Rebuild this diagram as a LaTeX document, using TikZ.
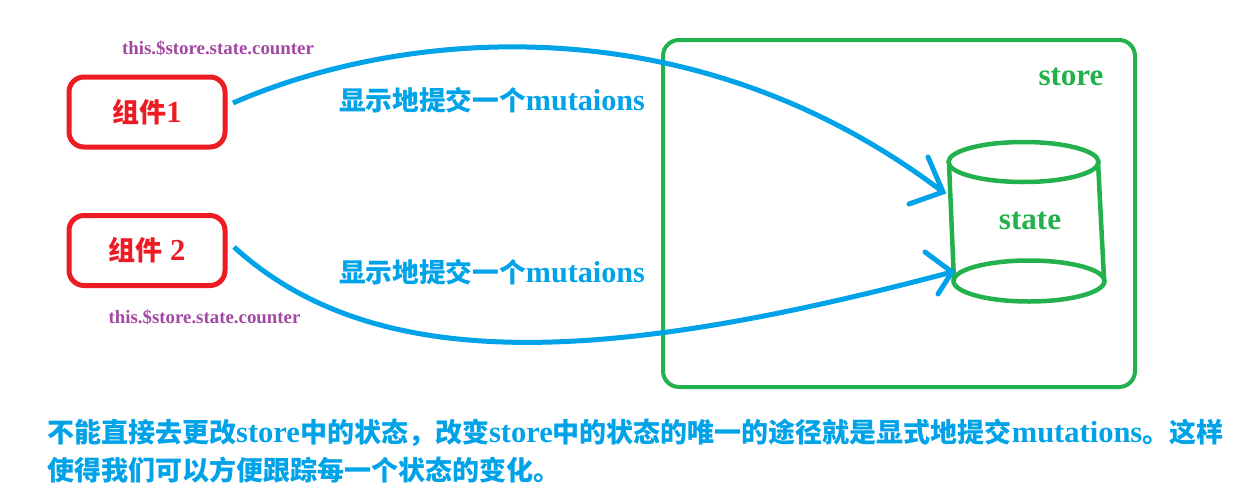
\documentclass[tikz,border=0pt]{standalone}
\usepackage{fontspec}
\setmainfont{Liberation Serif}[Scale=1.13]
\newfontfamily\cjkf{Noto Sans CJK SC}
\newcommand\zh[1]{{\cjkf #1}}
\definecolor{cred}{RGB}{237,28,36}
\definecolor{cgreen}{RGB}{34,177,76}
\definecolor{cblue}{RGB}{0,162,232}
\definecolor{cpurple}{RGB}{163,73,164}
\tikzset{
  compbox/.style={draw=cred, line width=5pt, rounded corners=15pt, minimum width=156pt, minimum height=70pt, inner sep=0pt, text=cred, font=\fontsize{27}{30}\selectfont\bfseries},
  storebox/.style={draw=cgreen, line width=4pt, rounded corners=16pt},
  flow/.style={draw=cblue, line width=5pt},
  barb/.style={draw=cblue, line width=5pt, line cap=round},
  cyl/.style={draw=cgreen, line width=4.5pt},
  pathlbl/.style={text=cpurple, font=\fontsize{16.7}{20}\selectfont\bfseries, inner sep=0pt},
  flowlbl/.style={text=cblue, font=\fontsize{26.7}{30}\selectfont\bfseries, inner sep=0pt},
  greenlbl/.style={text=cgreen, font=\fontsize{27.5}{30}\selectfont\bfseries, inner sep=0pt},
}
\begin{document}
\begin{tikzpicture}[x=1pt,y=-1pt]
\useasboundingbox (0,0) rectangle (1249,490);
\fill[white] (0,0) rectangle (1249,490);

% components
\node[compbox] (c1) at (147,112) {\zh{组件}1};
\node[compbox] (c2) at (147,250.5) {\zh{组件} 2};
\node[pathlbl] (p1) at (218,48) {this.\$store.state.counter};
\node[pathlbl] (p2) at (204.5,317) {this.\$store.state.counter};

% store box
\node[storebox, minimum width=472pt, minimum height=347pt, inner sep=0pt] (store) at (899,213.5) {};
\node[greenlbl] (storelbl) at (1071,77) {store};

% cylinder (state)
\draw[cyl] (1023.5,162) ellipse [x radius=75, y radius=20];
\draw[cyl] (1029,281) ellipse [x radius=75.5, y radius=20.5];
\coordinate (tl) at (949,164);
\coordinate (bl) at (954,281);
\coordinate (tr) at (1098,162);
\coordinate (br) at (1104,279);
\draw[cyl] (tl) -- (bl);
\draw[cyl] (tr) -- (br);
\node[greenlbl] (state) at (1030,221) {state};

% arrows
\coordinate (s1) at (233,103);
\coordinate (t1) at (943,192);
\coordinate (s2) at (234,247);
\coordinate (t2) at (952,272);
\draw[flow] (s1) .. controls (400,30) and (690,0) .. (t1);
\draw[flow] (s2) .. controls (380,380) and (620,360) .. (t2);
\coordinate (a1) at (928,157);
\coordinate (b1) at (909,204);
\coordinate (a2) at (925,252);
\coordinate (b2) at (938,294);
\draw[barb] (a1) -- (t1) -- (b1);
\draw[barb] (a2) -- (t2) -- (b2);

\node[flowlbl] (l1) at (492,100) {\zh{显示地提交一个}mutaions};
\node[flowlbl] (l2) at (492,272) {\zh{显示地提交一个}mutaions};

% bottom text
\node[text=cblue, font=\fontsize{27}{37.5}\selectfont\bfseries, inner sep=0pt, anchor=north west, align=left] (note) at (47,419) {\zh{不能直接去更改}store\zh{中的状态，改变}store\zh{中的状态的唯一的途径就是显式地提交}mutations\zh{。这样}\\\zh{使得我们可以方便跟踪每一个状态的变化。}};
\end{tikzpicture}
\end{document}
